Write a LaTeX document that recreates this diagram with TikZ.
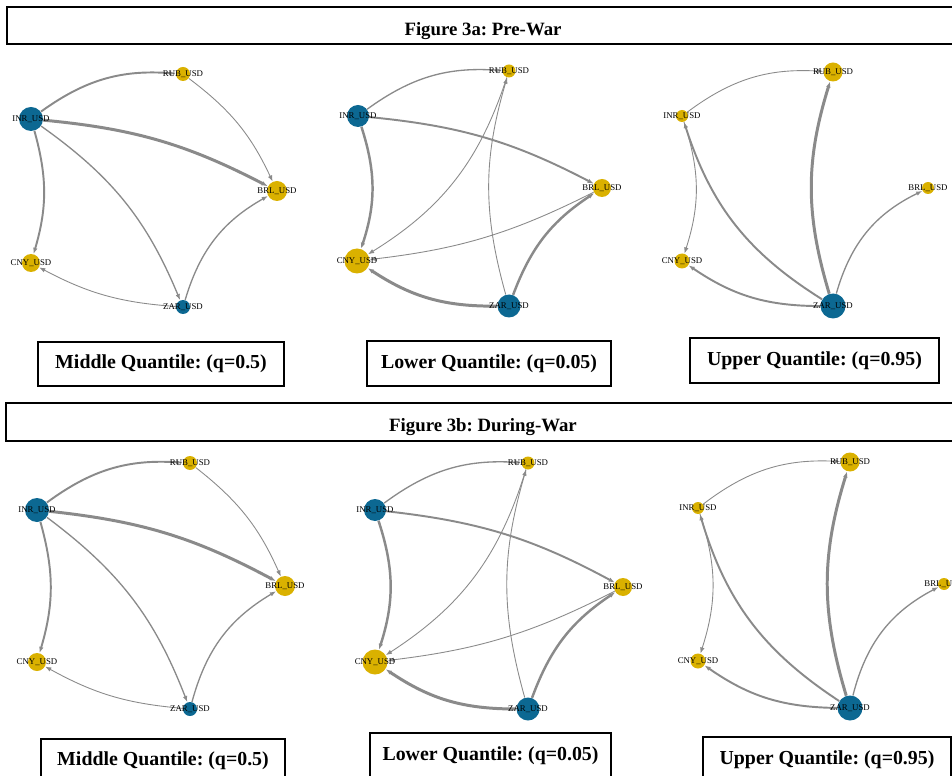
\documentclass[tikz,border=0pt]{standalone}
\usepackage{fontspec}
\setmainfont{Liberation Serif}
\usetikzlibrary{arrows.meta, backgrounds}

\definecolor{usdblue}{RGB}{12,104,146}
\definecolor{usdgold}{RGB}{218,177,0}
\definecolor{linkgray}{RGB}{138,138,138}

\def\px{0.02cm}		% One pixel of the original figure

\frenchspacing

\begin{document}
\begin{tikzpicture}[x = \px, y = \px, > = {Latex[length = 3.5pt, width = 2.6pt]},
	every node/.style = {text = black},
	every label/.style = {font = \fontsize{5}{6}\selectfont},
	bluecur/.style = {circle, fill = usdblue, inner sep = 0pt, minimum size = #1*\px},
	goldcur/.style = {circle, fill = usdgold, inner sep = 0pt, minimum size = #1*\px},
	link/.style = {->, draw = linkgray},
	faint/.style = {link, line width = 0.5pt},
	light/.style = {link, line width = 0.75pt},
	medium/.style = {link, line width = 1.1pt},
	strong/.style = {link, line width = 1.4pt},
	heavy/.style = {link, line width = 1.7pt},
	titlebox/.style = {draw, line width = 1.2pt, inner sep = 0pt, text height = 11pt, text depth = 0pt,
		font = \bfseries\fontsize{10.7}{12}\selectfont},
	capbox/.style = {draw, line width = 1.1pt, inner sep = 0pt, font = \bfseries\fontsize{11.3}{13}\selectfont}]

	\useasboundingbox (0, 0) rectangle (952, -776);

	% Titles

	\node [titlebox, minimum width = 952*\px, minimum height = 37*\px] (pre) at (483, -25.5) {Figure 3a: Pre-War};
	\node [titlebox, minimum width = 954*\px, minimum height = 38*\px] (during) at (483, -422) {Figure 3b: During-War};

	% Quantile captions

	\node [capbox, minimum width = 246*\px, minimum height = 44*\px] (capma) at (161, -364) {Middle Quantile: (q=0.5)};
	\node [capbox, minimum width = 244*\px, minimum height = 45*\px] (capla) at (489, -363.5) {Lower Quantile: (q=0.05)};
	\node [capbox, minimum width = 249*\px, minimum height = 45*\px] (capua) at (814.5, -360.5) {Upper Quantile: (q=0.95)};
	\node [capbox, minimum width = 244*\px, minimum height = 44*\px] (capmb) at (163, -761) {Middle Quantile: (q=0.5)};
	\node [capbox, minimum width = 241*\px, minimum height = 45*\px] (caplb) at (490.5, -755.5) {Lower Quantile: (q=0.05)};
	\node [capbox, minimum width = 248*\px, minimum height = 45*\px] (capub) at (827, -759.5) {Upper Quantile: (q=0.95)};

	% Middle quantile networks

	\node [goldcur = 14, label = center:RUB\_USD] (ma-rub) at (183, -74) {};
	\node [bluecur = 24, label = center:INR\_USD] (ma-inr) at (31, -119) {};
	\node [goldcur = 20, label = center:BRL\_USD] (ma-brl) at (277, -191) {};
	\node [goldcur = 18, label = center:CNY\_USD] (ma-cny) at (31, -263) {};
	\node [bluecur = 14, label = center:ZAR\_USD] (ma-zar) at (183, -307) {};

	\node [goldcur = 14, label = center:RUB\_USD] (mb-rub) at (190, -463) {};
	\node [bluecur = 24, label = center:INR\_USD] (mb-inr) at (37, -510) {};
	\node [goldcur = 20, label = center:BRL\_USD] (mb-brl) at (285, -586) {};
	\node [goldcur = 18, label = center:CNY\_USD] (mb-cny) at (37, -662) {};
	\node [bluecur = 14, label = center:ZAR\_USD] (mb-zar) at (190, -709) {};

	% Lower quantile networks

	\node [goldcur = 13, label = center:RUB\_USD] (la-rub) at (509, -71) {};
	\node [bluecur = 22, label = center:INR\_USD] (la-inr) at (358, -116) {};
	\node [goldcur = 18, label = center:BRL\_USD] (la-brl) at (602, -188) {};
	\node [goldcur = 25, label = center:CNY\_USD] (la-cny) at (357, -261) {};
	\node [bluecur = 23, label = center:ZAR\_USD] (la-zar) at (509, -306) {};

	\node [goldcur = 13, label = center:RUB\_USD] (lb-rub) at (528, -463) {};
	\node [bluecur = 22, label = center:INR\_USD] (lb-inr) at (375, -510) {};
	\node [goldcur = 18, label = center:BRL\_USD] (lb-brl) at (623, -587) {};
	\node [goldcur = 25, label = center:CNY\_USD] (lb-cny) at (375, -662) {};
	\node [bluecur = 23, label = center:ZAR\_USD] (lb-zar) at (528, -709) {};

	% Upper quantile networks

	\node [goldcur = 19, label = center:RUB\_USD] (ua-rub) at (833, -72) {};
	\node [goldcur = 12, label = center:INR\_USD] (ua-inr) at (682, -116) {};
	\node [goldcur = 12, label = center:BRL\_USD] (ua-brl) at (928, -188) {};
	\node [goldcur = 15, label = center:CNY\_USD] (ua-cny) at (682, -261) {};
	\node [bluecur = 25, label = center:ZAR\_USD] (ua-zar) at (833, -306) {};

	\node [goldcur = 19, label = center:RUB\_USD] (ub-rub) at (850, -462) {};
	\node [goldcur = 12, label = center:INR\_USD] (ub-inr) at (698, -508) {};
	\node [goldcur = 12, label = center:BRL\_USD] (ub-brl) at (944, -584) {};
	\node [goldcur = 15, label = center:CNY\_USD] (ub-cny) at (698, -661) {};
	\node [bluecur = 25, label = center:ZAR\_USD] (ub-zar) at (850, -708) {};

	% Spillover links, behind the currencies

	\begin{scope}[on background layer]

		\foreach \p in {ma, mb} {
			\draw [medium, bend left = 20] (\p-inr) to (\p-rub);
			\draw [faint, bend left = 14] (\p-rub) to (\p-brl);
			\draw [heavy, bend left = 11] (\p-inr) to (\p-brl);
			\draw [medium, bend left = 16] (\p-inr) to (\p-cny);
			\draw [light, bend left = 16] (\p-inr) to (\p-zar);
			\draw [light, bend left = 22] (\p-zar) to (\p-brl);
			\draw [faint, bend left = 12] (\p-zar) to (\p-cny);
		}

		\foreach \p in {la, lb} {
			\draw [light, bend left = 20] (\p-inr) to (\p-rub);
			\draw [medium, bend left = 11] (\p-inr) to (\p-brl);
			\draw [strong, bend left = 18] (\p-inr) to (\p-cny);
			\draw [faint, bend left = 20] (\p-rub) to (\p-cny);
			\draw [faint, bend left = 16] (\p-zar) to (\p-rub);
			\draw [faint, bend left = 10] (\p-brl) to (\p-cny);
			\draw [strong, bend left = 18] (\p-zar) to (\p-brl);
			\draw [heavy, bend left = 17] (\p-zar) to (\p-cny);
		}

		\foreach \p in {ua, ub} {
			\draw [faint, bend left = 20] (\p-inr) to (\p-rub);
			\draw [faint, bend left = 18] (\p-inr) to (\p-cny);
			\draw [medium, bend left = 20] (\p-zar) to (\p-inr);
			\draw [heavy, bend left = 17] (\p-zar) to (\p-rub);
			\draw [medium, bend left = 17] (\p-zar) to (\p-cny);
			\draw [light, bend left = 24] (\p-zar) to (\p-brl);
		}

	\end{scope}

\end{tikzpicture}
\end{document}
